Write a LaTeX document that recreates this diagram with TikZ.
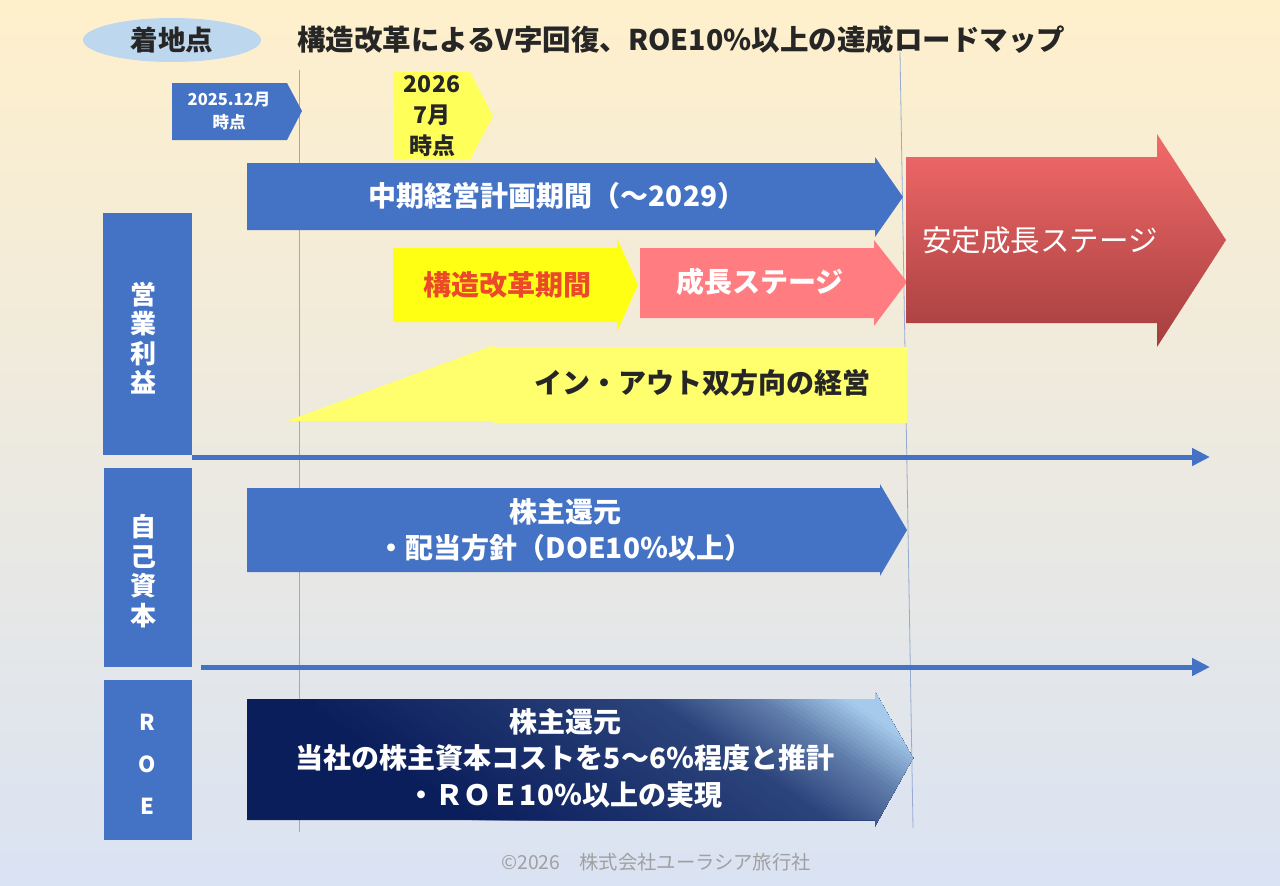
\documentclass[tikz,border=0pt]{standalone}
\usepackage{fontspec}
\setmainfont{Noto Sans CJK JP}
\usetikzlibrary{arrows.meta,shapes.geometric}
\definecolor{bgtop}{RGB}{255,240,204}
\definecolor{bgmid}{RGB}{250,229,214}
\definecolor{bgbot}{RGB}{218,227,243}
\definecolor{mblue}{RGB}{68,114,196}
\definecolor{kyellow}{RGB}{255,255,20}
\definecolor{pyellow}{RGB}{255,255,90}
\definecolor{iyellow}{RGB}{255,255,110}
\definecolor{salmon}{RGB}{255,124,128}
\definecolor{redtop}{RGB}{243,106,106}
\definecolor{redbot}{RGB}{165,62,62}
\definecolor{navy}{RGB}{10,30,92}
\definecolor{lightb}{RGB}{165,202,235}
\definecolor{ellip}{RGB}{189,215,238}
\definecolor{txt}{RGB}{38,38,38}
\definecolor{redtxt}{RGB}{236,72,42}
\definecolor{gline}{RGB}{150,170,210}
\definecolor{foot}{RGB}{160,160,160}
\tikzset{
  wtext/.style={text=white, font=\bfseries\fontsize{28}{36}\selectfont, align=center, inner sep=0pt},
  dtext/.style={text=txt, font=\bfseries\fontsize{28}{36}\selectfont, align=center, inner sep=0pt},
  sidebox/.style={fill=mblue, draw=none},
  sidelabel/.style={text=white, font=\bfseries\fontsize{26}{29.5}\selectfont, align=center, inner sep=0pt},
  axisarrow/.style={draw=mblue, line width=5pt, -{Triangle[length=18pt,width=17pt]}},
  guide/.style={draw=gline, line width=0.8pt},
}
\begin{document}
\begin{tikzpicture}[x=1pt,y=-1pt]
\useasboundingbox (0,0) rectangle (1280,886);
\shade[top color=bgtop, middle color=bgmid, bottom color=bgbot] (0,0) rectangle (1280,886);

% guide lines
\coordinate (g1a) at (299,70);
\coordinate (g1b) at (299,832);
\coordinate (g2a) at (900,52);
\coordinate (g2b) at (913,828);
\draw[guide] (g1a) -- (g1b);
\draw[guide] (g2a) -- (g2b);

% header
\node[ellipse, fill=ellip, minimum width=178pt, minimum height=44pt, inner sep=0pt,
      text=txt, font=\bfseries\fontsize{27.5}{30}\selectfont] (goal) at (172,40) {着地点};
\node[anchor=west, text=txt, font=\bfseries\fontsize{28.5}{30}\selectfont, inner sep=0pt] (title) at (297,40)
  {構造改革によるV字回復、ROE10\%以上の達成ロードマップ};

% time markers
\fill[mblue] (172,83) -- (287,83) -- (302,111) -- (287,140) -- (172,140) -- cycle;
\node[text=white, font=\bfseries\fontsize{16.5}{23}\selectfont, align=center, inner sep=0pt] (t2025) at (229,111) {2025.12月\\時点};
\fill[pyellow] (393,72) -- (470,72) -- (493,116) -- (470,160) -- (393,160) -- cycle;
\node[text=txt, font=\bfseries\fontsize{23}{31}\selectfont, align=center, inner sep=0pt] (t2026) at (432,116) {2026\\7月\\時点};

% mid-term plan arrow
\fill[mblue] (247,163) -- (875,163) -- (875,157) -- (903,197) -- (875,237) -- (875,230) -- (247,230) -- cycle;
\node[wtext] (chuki) at (557,196) {中期経営計画期間（〜2029）};

% structural reform
\fill[kyellow] (393,248) -- (617,248) -- (617,238) -- (638,285) -- (617,332) -- (617,322) -- (393,322) -- cycle;
\node[dtext, text=redtxt] (kozo) at (507,285) {構造改革期間};

% growth stage
\fill[salmon] (640,248) -- (874,248) -- (874,240) -- (907,282) -- (874,326) -- (874,318) -- (640,318) -- cycle;
\node[wtext] (seicho) at (760,282) {成長ステージ};

% stable growth stage
\shade[top color=redtop, bottom color=redbot] (906,157) -- (1157,157) -- (1157,134) -- (1226,240) -- (1157,347) -- (1157,323) -- (906,323) -- cycle;
\node[wtext, font=\fontsize{29.5}{36}\selectfont] (antei) at (1040,240) {安定成長ステージ};

% in-out
\fill[iyellow] (287,421) -- (494,345) -- (494,347) -- (907,347) -- (907,423) -- (494,423) -- (494,421) -- cycle;
\node[dtext] (inout) at (702,383) {イン・アウト双方向の経営};

% side boxes
\fill[sidebox] (103,213) rectangle (192,455);
\node[sidelabel] (eigyo) at (143,338) {営\\業\\利\\益};
\fill[sidebox] (104,468) rectangle (192,667);
\node[sidelabel] (jiko) at (143,571) {自\\己\\資\\本};
\fill[sidebox] (104,680) rectangle (192,840);
\node[text=white, font=\bfseries\fontsize{22}{42}\selectfont, align=center, inner sep=0pt] (roe) at (147,764) {R\\O\\E};

% axis arrows
\coordinate (a1s) at (192,457);
\coordinate (a1e) at (1210,457);
\coordinate (a2s) at (201,667);
\coordinate (a2e) at (1210,667);
\draw[axisarrow] (a1s) -- (a1e);
\draw[axisarrow] (a2s) -- (a2e);

% shareholder return
\fill[mblue] (247,488) -- (880,488) -- (880,484) -- (907,530) -- (880,576) -- (880,572) -- (247,572) -- cycle;
\node[wtext] (kanngen) at (565,530) {株主還元\\・配当方針（DOE10％以上）};

% ROE arrow with diagonal gradient
\begin{scope}
  \clip (247,699) -- (875,699) -- (875,692) -- (913,758) -- (875,826) -- (875,820) -- (247,820) -- cycle;
  \fill[navy] (240,680) rectangle (920,830);
  \foreach \s in {-260,-256,...,60}{
    \pgfmathsetmacro\p{\s<-60 ? (\s+260)*0.11 : (\s<0 ? 22+(\s+60)*0.55 : min(100,55+\s*0.9))}
    \fill[lightb!\p!navy, shift={(788,721)}]
      ({0.563*\s-330.4},{-0.826*\s-225.2}) --
      ({0.563*\s+330.4},{-0.826*\s+225.2}) --
      ({0.563*\s+555.6},{-0.826*\s-105.2}) --
      ({0.563*\s-105.2},{-0.826*\s-555.6}) -- cycle;
  }
\end{scope}
\node[wtext, font=\bfseries\fontsize{28}{36.5}\selectfont] (roetext) at (565,758) {株主還元\\当社の株主資本コストを5〜6％程度と推計\\・ＲＯＥ10％以上の実現};

% footer
\node[text=foot, font=\fontsize{19.3}{22}\selectfont, inner sep=0pt] (foot) at (656,862) {©2026　株式会社ユーラシア旅行社};
\end{tikzpicture}
\end{document}
